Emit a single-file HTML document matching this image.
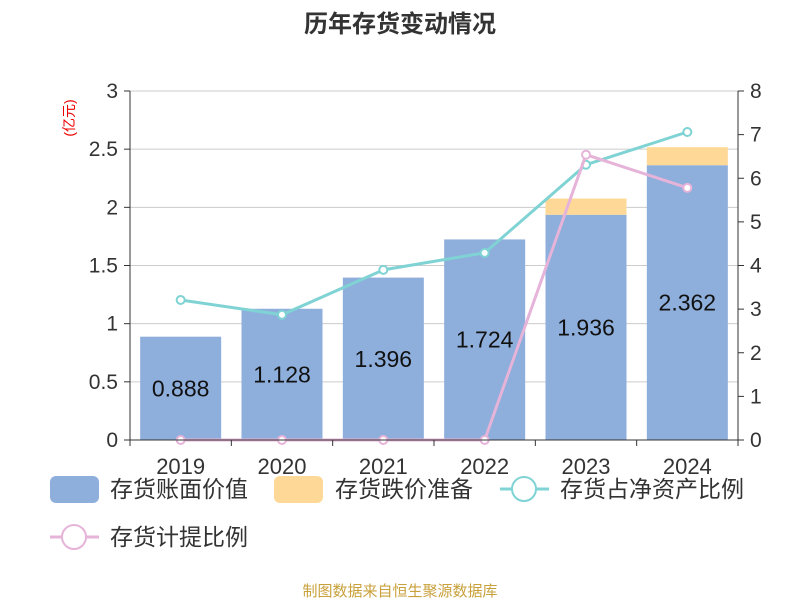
<!DOCTYPE html>
<html><head><meta charset="utf-8"><style>
body{margin:0;background:#fff;width:800px;height:600px;overflow:hidden}
svg text{font-family:"Liberation Sans","Noto Sans CJK SC",sans-serif}
</style></head><body>
<svg id="c" width="800" height="600">
<text x="400" y="32" text-anchor="middle" font-size="24" font-weight="bold" fill="#333">历年存货变动情况</text>
<text transform="translate(74,118) rotate(-90)" text-anchor="middle" font-size="14" fill="#e00">(亿元)</text>
<g id="grid"></g><g id="bars"></g><g id="lines"></g><g id="axes"></g>
<g>
<rect x="50" y="476" width="49" height="27" rx="6" fill="#8eaedb"/>
<text x="110" y="497" font-size="23" fill="#333">存货账面价值</text>
<rect x="274" y="476" width="49" height="27" rx="6" fill="#fdd896"/>
<text x="335" y="497" font-size="23" fill="#333">存货跌价准备</text>
<line x1="500" y1="489" x2="549" y2="489" stroke="#7fd3d4" stroke-width="3"/>
<circle cx="524" cy="489" r="12" fill="#fff" stroke="#7fd3d4" stroke-width="2"/>
<text x="560" y="497" font-size="23" fill="#333">存货占净资产比例</text>
<line x1="50" y1="537" x2="99" y2="537" stroke="#e6b3d9" stroke-width="3"/>
<circle cx="74" cy="537" r="12" fill="#fff" stroke="#e6b3d9" stroke-width="2"/>
<text x="110" y="545" font-size="23" fill="#333">存货计提比例</text>
</g>
<text x="400" y="596" text-anchor="middle" font-size="15" fill="#c9a13c">制图数据来自恒生聚源数据库</text>
</svg>
<script>
const categories=["2019","2020","2021","2022","2023","2024"];
const bookValue=[0.888,1.128,1.396,1.724,1.936,2.362];
const reserve=[0,0,0,0,0.14,0.155];
const netAssetRatio=[3.21,2.87,3.90,4.29,6.31,7.06];
const provisionRatio=[0,0,0,0,6.54,5.78];
const leftTicks=["0","0.5","1","1.5","2","2.5","3"];
const rightTicks=["0","1","2","3","4","5","6","7","8"];
const NS="http://www.w3.org/2000/svg";
const X0=130,X1=738,Y0=440,Y1=91;
const bw=(X1-X0)/categories.length;
const xc=i=>X0+bw*(i+0.5);
const yl=v=>Y0-(v/3)*(Y0-Y1);
const yr=v=>Y0-(v/8)*(Y0-Y1);
function mk(tag,attrs,parent){const e=document.createElementNS(NS,tag);for(const k in attrs)e.setAttribute(k,attrs[k]);document.getElementById(parent).appendChild(e);return e;}
leftTicks.forEach((t,i)=>{const y=yl(+t);
 if(i>0){const g=mk("line",{x1:X0,x2:X1,y1:y,y2:y,stroke:"#ccc","stroke-width":1},"grid");}
 mk("line",{x1:X0-6,x2:X0,y1:y,y2:y,stroke:"#333"},"axes");
 const tx=mk("text",{x:X0-12,y:y+7,"text-anchor":"end","font-size":21,fill:"#333"},"axes");tx.textContent=t;
 });
rightTicks.forEach(t=>{const y=yr(+t);
 mk("line",{x1:X1,x2:X1+6,y1:y,y2:y,stroke:"#333"},"axes");
 const tx=mk("text",{x:X1+12,y:y+7,"font-size":21,fill:"#333"},"axes");tx.textContent=t;
 });
mk("line",{x1:X0,x2:X0,y1:Y1,y2:Y0,stroke:"#333"},"axes");
mk("line",{x1:X1,x2:X1,y1:Y1,y2:Y0,stroke:"#333"},"axes");
mk("line",{x1:X0,x2:X1,y1:Y0,y2:Y0,stroke:"#333"},"axes");
categories.forEach((c,i)=>{
 mk("line",{x1:X0+bw*i,x2:X0+bw*i,y1:Y0,y2:Y0+6,stroke:"#333"},"axes");
 const tx=mk("text",{x:xc(i),y:Y0+34,"text-anchor":"middle","font-size":22,fill:"#333"},"axes");tx.textContent=c;
 
 const w=81,x=xc(i)-w/2;
 const b=mk("rect",{x:x,y:yl(bookValue[i]),width:w,height:Y0-yl(bookValue[i]),fill:"#8eaedb"},"bars");
 
 if(reserve[i]>0){const r=mk("rect",{x:x,y:yl(bookValue[i]+reserve[i]),width:w,height:yl(bookValue[i])-yl(bookValue[i]+reserve[i]),fill:"#fdd896"},"bars");
 }
 const l=mk("text",{x:xc(i),y:(yl(bookValue[i])+Y0)/2+8,"text-anchor":"middle","font-size":23,fill:"#111"},"bars");l.textContent=bookValue[i].toFixed(3);
 
});
mk("line",{x1:X1,x2:X1,y1:Y0,y2:Y0+6,stroke:"#333"},"axes");
function series(vals,color,name){
 const p=mk("polyline",{points:vals.map((v,i)=>xc(i)+","+yr(v)).join(" "),fill:"none",stroke:color,"stroke-width":3},"lines");
 
 vals.forEach((v,i)=>{const c=mk("circle",{cx:xc(i),cy:yr(v),r:4,fill:"#fff",stroke:color,"stroke-width":2},"lines");
 });
}
series(netAssetRatio,"#7fd3d4","net-asset-ratio");
series(provisionRatio,"#e6b3d9","provision-ratio");
</script>
</body></html>
